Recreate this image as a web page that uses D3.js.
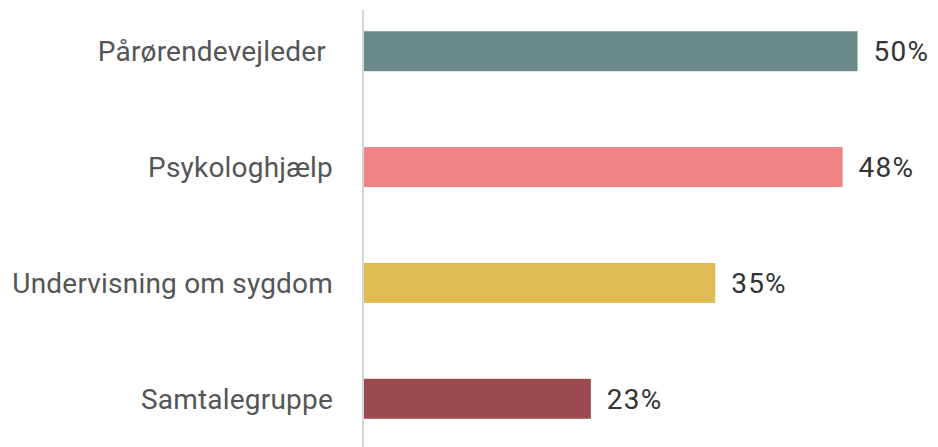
<!DOCTYPE html>
<html>
<head>
<meta charset="utf-8">
<script src="https://cdn.jsdelivr.net/npm/d3@7"></script>
<style>
  body { margin: 0; background: #fff; }
</style>
</head>
<body>
<svg id="chart" width="938" height="447"></svg>
<script>
var categories = ['Pårørendevejleder', 'Psykologhjælp', 'Undervisning om sygdom', 'Samtalegruppe'];
var values = [49.6, 48.1, 35.3, 22.8];
var colors = ['#6a8a8a', '#ef8386', '#e0bb52', '#9b4b50'];

var margin = {top: 0, right: 0, bottom: 0, left: 364};
var width = 938, height = 447;

var svg = d3.select('#chart');

var x = d3.scaleLinear().domain([0, 100]).range([margin.left, margin.left + 995]);
var y = d3.scaleBand().domain(categories).range([-7, 457]).paddingInner(0.655).paddingOuter(0.33);

var data = categories.map((c, i) => ({cat: c, val: values[i], color: colors[i]}));

svg.append('line')
   .attr('x1', 363).attr('x2', 363)
   .attr('y1', 10).attr('y2', height)
   .attr('stroke', '#d6d6d6')
   .attr('stroke-width', 2);

svg.append('g')
   .selectAll('rect')
   .data(data)
   .enter()
   .append('rect')
   .attr('x', x(0))
   .attr('y', d => y(d.cat))
   .attr('width', d => x(d.val) - x(0))
   .attr('height', y.bandwidth())
   .attr('fill', d => d.color);

// category labels, first one sits a little further left in the original
svg.append('g')
   .selectAll('text')
   .data(data)
   .enter()
   .append('text')
   .attr('x', (d, i) => i == 0 ? 326 : 333)
   .attr('y', d => y(d.cat) + y.bandwidth() / 2)
   .attr('dy', '0.36em')
   .attr('text-anchor', 'end')
   .attr('font-family', 'Roboto')
   .attr('font-size', 28)
   .attr('letter-spacing', 0.2)
   .attr('fill', '#555')
   .text(d => d.cat);

svg.append('g')
   .selectAll('text')
   .data(data)
   .enter()
   .append('text')
   .attr('x', d => x(d.val) + 16)
   .attr('y', d => y(d.cat) + y.bandwidth() / 2)
   .attr('dy', '0.36em')
   .attr('font-family', 'Roboto')
   .attr('font-size', 28)
   .attr('letter-spacing', 1.2)
   .attr('fill', '#333')
   .text(d => d3.format('.0f')(d.val) + '%');
</script>
</body>
</html>
